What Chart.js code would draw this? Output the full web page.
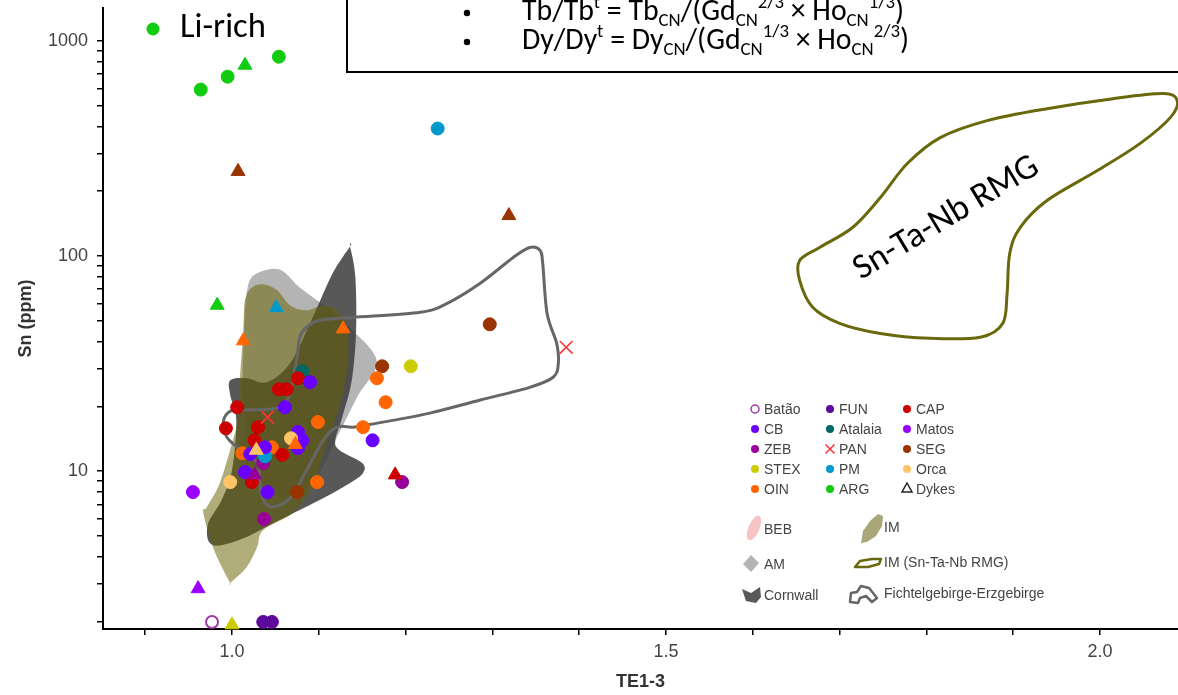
<!DOCTYPE html>
<html lang="es">
<head>
<meta charset="utf-8">
<title>Sn vs TE1-3</title>
<script src="https://cdn.jsdelivr.net/npm/chart.js@4.4.1/dist/chart.umd.min.js"></script>
<style>
  html, body { margin: 0; padding: 0; background: #fff; }
  canvas { display: block; }
</style>
</head>
<body>
<canvas id="graficoSn" width="1178" height="695"></canvas>
<script>
// Ejes
const X_MIN = 0.8514, X_MAX = 2.0899;
const Y_MIN = 1.845, Y_MAX = 1420;
const X_TICKS = [0.9, 1.0, 1.1, 1.2, 1.3, 1.4, 1.5, 1.6, 1.7, 1.8, 1.9, 2.0];
const X_ETIQUETAS = ['1.0', '1.5', '2.0'];
const Y_TICKS = [2, 3, 4, 5, 6, 7, 8, 9, 10, 20, 30, 40, 50, 60, 70, 80, 90,
                 100, 200, 300, 400, 500, 600, 700, 800, 900, 1000];
const Y_ETIQUETAS = ['10', '100', '1000'];

// Campos de referencia (TE1-3, Sn ppm)
const CAMPO_AM = [[1.029, 83.0], [1.055, 86.5], [1.078, 71.4], [1.109, 57.7], [1.139, 45.1], [1.167, 32.1],
                  [1.144, 22.0], [1.121, 14.4], [1.093, 8.80], [1.055, 7.57], [1.024, 10.9], [1.013, 22.0],
                  [1.014, 45.1], [1.018, 71.4]];
const CAMPO_CORNWALL = [[1.136, 110.7], [1.136, 110.7], [1.142, 81.2], [1.143, 45.1], [1.138, 26.4], [1.127, 17.8],
                        [1.119, 13.9], [1.124, 12.5], [1.150, 10.9], [1.151, 9.79], [1.136, 8.80], [1.101, 7.33],
                        [1.055, 5.92], [1.009, 4.79], [0.977, 4.54], [0.972, 5.61], [0.988, 7.33], [1.000, 10.1],
                        [1.005, 17.2], [0.998, 22.5], [0.998, 26.4], [1.017, 27.0], [1.040, 25.9], [1.067, 31.7],
                        [1.093, 51.8], [1.116, 83.0]];
const CAMPO_IM = [[1.036, 73.8], [1.052, 69.2], [1.067, 58.9], [1.086, 55.9], [1.105, 58.9], [1.121, 55.9],
                  [1.132, 46.6], [1.134, 33.8], [1.128, 23.0], [1.116, 16.0], [1.105, 12.1], [1.093, 8.43],
                  [1.070, 6.38], [1.036, 5.32], [1.029, 4.44], [1.017, 3.58], [0.998, 3.02], [0.998, 3.02],
                  [0.990, 3.47], [0.978, 4.44], [0.967, 6.38], [0.971, 6.81], [0.986, 8.80], [1.001, 13.9],
                  [1.006, 17.2], [1.009, 26.4], [1.013, 45.1], [1.015, 62.2], [1.023, 71.4]];
const CAMPO_FICHTEL = [[1.101, 50.2], [1.139, 51.8], [1.217, 54.7], [1.248, 60.2], [1.286, 74.6], [1.324, 98.4],
                       [1.343, 109.5], [1.355, 106.1], [1.358, 92.3], [1.363, 54.1], [1.374, 39.3], [1.376, 31.7],
                       [1.370, 27.3], [1.343, 24.5], [1.286, 21.4], [1.228, 18.6], [1.185, 17.2], [1.156, 16.4],
                       [1.139, 16.0], [1.121, 16.0], [1.105, 13.9], [1.086, 10.1], [1.067, 7.49], [1.047, 6.81],
                       [1.036, 7.33], [1.032, 8.80], [1.029, 10.9], [1.007, 12.8], [0.994, 14.4], [0.990, 16.7],
                       [0.995, 18.6], [1.007, 19.2], [1.053, 19.6], [1.065, 22.0], [1.070, 26.4], [1.075, 33.8],
                       [1.078, 41.9], [1.086, 46.6]];
const CAMPO_RMG = [[1.654, 95.3], [1.677, 109.5], [1.715, 135.5], [1.747, 186.8], [1.778, 268.7], [1.816, 354.6],
                   [1.870, 425.5], [1.939, 483.6], [2.015, 538.2], [2.073, 568], [2.089, 526.7], [2.081, 439.3],
                   [2.046, 332.7], [1.997, 249.3], [1.939, 180.9], [1.908, 135.5], [1.896, 102.7], [1.893, 67.0],
                   [1.888, 48.6], [1.862, 41.9], [1.804, 41.4], [1.747, 43.6], [1.700, 48.6], [1.669, 57.7],
                   [1.654, 76.9]];

// Muestras (circulos = granitos, triangulos = diques)
const ARG_C = [[0.964, 593], [0.995, 681], [1.054, 843]];
const ARG_T = [[1.015, 770], [0.983, 59]];
const PM_C = [[1.237, 391], [1.038, 11.7]];
const PM_T = [[1.051, 57.5]];
const SEG_C = [[1.297, 48.1], [1.173, 30.7], [1.075, 7.99]];
const SEG_T = [[1.007, 247], [1.319, 154]];
const STEX_C = [[1.206, 30.7]];
const STEX_T = [[1.000, 1.93]];
const PAN_X = [[1.385, 37.6], [1.041, 17.8]];
const OIN_C = [[1.167, 27.0], [1.177, 20.9], [1.099, 16.9], [1.151, 16.0], [1.098, 8.89], [1.012, 12.1], [1.046, 12.9]];
const OIN_T = [[1.013, 40.3], [1.128, 45.8], [1.073, 13.3]];
const CAP_C = [[1.076, 27.0], [1.054, 24.0], [1.063, 24.0], [1.006, 19.8], [0.993, 15.8], [1.030, 16.0],
               [1.026, 13.9], [1.058, 11.9], [1.023, 8.89]];
const CAP_T = [[1.188, 9.6]];
const CB_C = [[1.090, 25.9], [1.061, 19.8], [1.076, 15.2], [1.081, 13.9], [1.076, 12.8], [1.038, 12.9],
              [1.021, 12.0], [1.162, 13.9], [1.015, 9.89], [1.041, 7.99]];
const MATOS_C = [[0.955, 7.99]];
const MATOS_T = [[0.961, 2.84]];
const ZEB_C = [[1.036, 10.9], [1.196, 8.89], [1.037, 5.98]];
const ZEB_T = [[1.026, 9.6]];
const ATALAIA_C = [[1.081, 29.1]];
const ORCA_C = [[0.998, 8.89], [1.068, 14.2]];
const ORCA_T = [[1.028, 12.5]];
const FUN_C = [[1.036, 1.99], [1.046, 1.99]];
const BATAO_C = [[0.977, 1.99]];

// Colores del tema
const COLORES = {
    batao: '#a03aa6',
    cb: '#6a00ff',
    zeb: '#990099',
    stex: '#cccc00',
    oin: '#ff6600',
    fun: '#5e0a9a',
    atalaia: '#006666',
    pan: '#ff3333',
    pm: '#0099cc',
    arg: '#11cc11',
    cap: '#cc0000',
    matos: '#9b00ff',
    seg: '#993300',
    orca: '#ffc466',
    am: '#b4b4b4',
    cornwall: 'rgba(60, 60, 62, 0.86)',
    im: 'rgba(103, 98, 2, 0.52)',
    fichtel: '#666666',
    rmg: '#69690c',
    texto: '#444444'
};

const FUENTE_EJES = '"Liberation Sans", Arial, sans-serif';
const FUENTE_TEXTO = 'Carlito, Lato, "Open Sans", sans-serif';

// Crear un dataset de puntos
function serie(etiqueta, datos, color, estilo) {
    const ds = {
        label: etiqueta,
        data: datos.map(([x, y]) => ({ x, y })),
        showLine: false,
        clip: false,
        backgroundColor: color,
        borderColor: color,
        borderWidth: 1,
        pointStyle: 'circle',
        pointRadius: 6.5
    };
    if (estilo === 'tri') {
        ds.pointStyle = 'triangle';
        ds.pointRadius = 8;
    } else if (estilo === 'hueco') {
        ds.backgroundColor = '#ffffff';
        ds.borderWidth = 2;
        ds.pointRadius = 6;
    } else if (estilo === 'x') {
        ds.pointStyle = 'crossRot';
        ds.pointRadius = 9;
        ds.borderWidth = 1.6;
    }
    return ds;
}

// Curva cerrada suave (Catmull-Rom) a partir de pixeles
function curvaCerrada(ctx, pts) {
    const n = pts.length;
    ctx.beginPath();
    ctx.moveTo(pts[0][0], pts[0][1]);
    for (let i = 0; i < n; i++) {
        const p0 = pts[(i - 1 + n) % n], p1 = pts[i], p2 = pts[(i + 1) % n], p3 = pts[(i + 2) % n];
        const t = 1 / 6;
        ctx.bezierCurveTo(
            p1[0] + (p2[0] - p0[0]) * t, p1[1] + (p2[1] - p0[1]) * t,
            p2[0] - (p3[0] - p1[0]) * t, p2[1] - (p3[1] - p1[1]) * t,
            p2[0], p2[1]
        );
    }
    ctx.closePath();
}

// Texto con subindices y superindices
function textoRico(ctx, partes, x, yBase, tam, dibujar) {
    let cx = x;
    partes.forEach(([txt, modo]) => {
        const t = modo ? tam * 0.63 : tam;
        ctx.font = `${t}px ${FUENTE_TEXTO}`;
        const dy = modo === 'sub' ? tam * 0.2 : (modo === 'sup' ? -tam * 0.4 : 0);
        if (dibujar) ctx.fillText(txt, cx, yBase + dy);
        cx += ctx.measureText(txt).width;
    });
    return cx - x;
}

// Plugin: campos de referencia debajo de los puntos
const pluginCampos = {
    id: 'campos',
    beforeDatasetsDraw(chart) {
        const { ctx, chartArea, scales } = chart;
        const aPixel = lista => lista.map(([vx, vy]) => [scales.x.getPixelForValue(vx), scales.y.getPixelForValue(vy)]);
        ctx.save();
        ctx.beginPath();
        ctx.rect(chartArea.left, chartArea.top, chartArea.right - chartArea.left, chartArea.bottom - chartArea.top);
        ctx.clip();

        curvaCerrada(ctx, aPixel(CAMPO_AM));
        ctx.fillStyle = COLORES.am;
        ctx.fill();

        curvaCerrada(ctx, aPixel(CAMPO_CORNWALL));
        ctx.fillStyle = COLORES.cornwall;
        ctx.fill();

        curvaCerrada(ctx, aPixel(CAMPO_IM));
        ctx.fillStyle = COLORES.im;
        ctx.fill();

        ctx.lineJoin = 'round';
        curvaCerrada(ctx, aPixel(CAMPO_FICHTEL));
        ctx.strokeStyle = COLORES.fichtel;
        ctx.lineWidth = 3;
        ctx.stroke();

        curvaCerrada(ctx, aPixel(CAMPO_RMG));
        ctx.strokeStyle = COLORES.rmg;
        ctx.lineWidth = 3;
        ctx.stroke();
        ctx.restore();
    },
    afterDraw(chart) {
        const ctx = chart.ctx;
        ctx.save();

        // Recuadro con las formulas
        ctx.fillStyle = '#ffffff';
        ctx.fillRect(347, -2, 840, 74);
        ctx.strokeStyle = '#000';
        ctx.lineWidth = 2;
        ctx.strokeRect(347, -4, 840, 76);

        const linea1 = [['Tb/Tb', ''], ['t', 'sup'], [' = Tb', ''], ['CN', 'sub'], ['/(Gd', ''], ['CN', 'sub'],
                        ['2/3', 'sup'], [' \u00d7 Ho', ''], ['CN', 'sub'], ['1/3', 'sup'], [')', '']];
        const linea2 = [['Dy/Dy', ''], ['t', 'sup'], [' = Dy', ''], ['CN', 'sub'], ['/(Gd', ''], ['CN', 'sub'],
                        ['1/3', 'sup'], [' \u00d7 Ho', ''], ['CN', 'sub'], ['2/3', 'sup'], [')', '']];
        ctx.textBaseline = 'alphabetic';
        ctx.textAlign = 'left';
        ctx.fillStyle = '#000';
        const tam = 24 * 387 / textoRico(ctx, linea2, 0, 0, 24, false);
        textoRico(ctx, linea1, 522, 20, tam, true);
        textoRico(ctx, linea2, 522, 49, tam, true);
        ctx.beginPath();
        ctx.arc(467, 13, 3.2, 0, Math.PI * 2);
        ctx.arc(467, 42, 3.2, 0, Math.PI * 2);
        ctx.fill();

        // Etiqueta Li-rich
        ctx.fillStyle = COLORES.arg;
        ctx.beginPath();
        ctx.arc(153, 29, 6.5, 0, Math.PI * 2);
        ctx.fill();
        ctx.fillStyle = '#000';
        ctx.font = `34px ${FUENTE_TEXTO}`;
        const tamLi = 34 * 86 / ctx.measureText('Li-rich').width;
        ctx.font = `${tamLi}px ${FUENTE_TEXTO}`;
        ctx.fillText('Li-rich', 180, 37);

        // Etiqueta del campo RMG
        ctx.save();
        ctx.translate(951, 226);
        ctx.rotate(-31 * Math.PI / 180);
        ctx.font = `34px ${FUENTE_TEXTO}`;
        const tamR = 34 * 210 / ctx.measureText('Sn-Ta-Nb RMG').width;
        ctx.font = `${tamR}px ${FUENTE_TEXTO}`;
        ctx.textAlign = 'center';
        ctx.fillText('Sn-Ta-Nb RMG', 0, 0);
        ctx.restore();

        dibujarLeyenda(ctx);
        ctx.restore();
    }
};

// Leyenda de muestras y campos
function dibujarLeyenda(ctx) {
    const items = [
        ['Batão', COLORES.batao, 'hueco'], ['CB', COLORES.cb], ['ZEB', COLORES.zeb], ['STEX', COLORES.stex], ['OIN', COLORES.oin],
        ['FUN', COLORES.fun], ['Atalaia', COLORES.atalaia], ['PAN', COLORES.pan, 'x'], ['PM', COLORES.pm], ['ARG', COLORES.arg],
        ['CAP', COLORES.cap], ['Matos', COLORES.matos], ['SEG', COLORES.seg], ['Orca', COLORES.orca], ['Dykes', '#222', 'tri']
    ];
    const colX = [755, 830, 907];
    ctx.font = `14px ${FUENTE_EJES}`;
    ctx.textBaseline = 'middle';
    ctx.textAlign = 'left';
    items.forEach(([txt, color, tipo], i) => {
        const mx = colX[Math.floor(i / 5)];
        const my = 409 + 20 * (i % 5);
        ctx.fillStyle = color;
        ctx.strokeStyle = color;
        ctx.lineWidth = 1.5;
        ctx.beginPath();
        if (tipo === 'hueco') {
            ctx.arc(mx, my, 4, 0, Math.PI * 2);
            ctx.stroke();
        } else if (tipo === 'x') {
            ctx.moveTo(mx - 4.5, my - 4.5); ctx.lineTo(mx + 4.5, my + 4.5);
            ctx.moveTo(mx + 4.5, my - 4.5); ctx.lineTo(mx - 4.5, my + 4.5);
            ctx.stroke();
        } else if (tipo === 'tri') {
            ctx.moveTo(mx, my - 6); ctx.lineTo(mx + 5, my + 3); ctx.lineTo(mx - 5, my + 3); ctx.closePath();
            ctx.stroke();
        } else {
            ctx.arc(mx, my, 4, 0, Math.PI * 2);
            ctx.fill();
        }
        ctx.fillStyle = COLORES.texto;
        ctx.fillText(txt, mx + 9, my + 1);
    });

    // Iconos de campos
    ctx.save();
    ctx.translate(754, 528);
    ctx.rotate(0.4);
    ctx.beginPath();
    ctx.ellipse(0, 0, 5.5, 13, 0, 0, Math.PI * 2);
    ctx.fillStyle = '#f6c4c4';
    ctx.fill();
    ctx.restore();

    const forma = (pts, relleno, trazo) => {
        ctx.beginPath();
        pts.forEach(([px, py], i) => i ? ctx.lineTo(px, py) : ctx.moveTo(px, py));
        ctx.closePath();
        if (relleno) { ctx.fillStyle = relleno; ctx.fill(); }
        if (trazo) { ctx.strokeStyle = trazo; ctx.lineWidth = 2.5; ctx.lineJoin = 'round'; ctx.stroke(); }
    };
    forma([[861, 543], [863, 531], [870, 521], [878, 514], [883, 516], [882, 526], [876, 536], [867, 542]], '#a9a77a');
    forma([[751, 555], [759, 563], [751, 572], [743, 564]], COLORES.am);
    forma([[855, 567], [860, 561], [872, 559], [881, 559], [879, 564], [868, 567]], null, COLORES.rmg);
    forma([[742, 589], [751, 593], [760, 587], [761, 597], [756, 603], [746, 601]], '#59595b');
    forma([[850, 602], [851, 593], [857, 592], [861, 586], [869, 588], [877, 598], [872, 602], [866, 596], [860, 598], [858, 603]], null, COLORES.fichtel);

    ctx.fillStyle = COLORES.texto;
    ctx.font = `14px ${FUENTE_EJES}`;
    ctx.fillText('BEB', 764, 530);
    ctx.fillText('IM', 884, 528);
    ctx.fillText('AM', 764, 565);
    ctx.fillText('IM (Sn-Ta-Nb RMG)', 884, 563);
    ctx.fillText('Cornwall', 764, 596);
    ctx.fillText('Fichtelgebirge-Erzgebirge', 884, 594);
}

// Datasets (el primero se dibuja encima)
const datasets = [
    serie('Orca', ORCA_T, COLORES.orca, 'tri'),
    serie('OIN', OIN_T, COLORES.oin, 'tri'),
    serie('ZEB', ZEB_T, COLORES.zeb, 'tri'),
    serie('CAP', CAP_T, COLORES.cap, 'tri'),
    serie('PM', PM_T, COLORES.pm, 'tri'),
    serie('SEG', SEG_T, COLORES.seg, 'tri'),
    serie('ARG', ARG_T, COLORES.arg, 'tri'),
    serie('STEX', STEX_T, COLORES.stex, 'tri'),
    serie('Matos', MATOS_T, COLORES.matos, 'tri'),
    serie('PAN', PAN_X, COLORES.pan, 'x'),
    serie('Orca', ORCA_C, COLORES.orca),
    serie('CB', CB_C, COLORES.cb),
    serie('PM', PM_C, COLORES.pm),
    serie('ZEB', ZEB_C, COLORES.zeb),
    serie('CAP', CAP_C, COLORES.cap),
    serie('OIN', OIN_C, COLORES.oin),
    serie('Atalaia', ATALAIA_C, COLORES.atalaia),
    serie('SEG', SEG_C, COLORES.seg),
    serie('STEX', STEX_C, COLORES.stex),
    serie('Matos', MATOS_C, COLORES.matos),
    serie('FUN', FUN_C, COLORES.fun),
    serie('Batão', BATAO_C, COLORES.batao, 'hueco'),
    serie('ARG', ARG_C, COLORES.arg)
];

const ctxSn = document.getElementById('graficoSn').getContext('2d');
const graficoSn = new Chart(ctxSn, {
    type: 'scatter',
    data: { datasets },
    options: {
        responsive: false,
        animation: false,
        layout: { autoPadding: false, padding: { top: 8, left: 0, right: 0, bottom: 0 } },
        plugins: {
            legend: { display: false },
            tooltip: { enabled: false }
        },
        scales: {
            x: {
                type: 'linear',
                min: X_MIN,
                max: X_MAX,
                afterFit: s => { s.height = 66; s.paddingLeft = 0; s.paddingRight = 0; },
                afterBuildTicks: s => { s.ticks = X_TICKS.map(v => ({ value: v })); },
                ticks: {
                    autoSkip: false,
                    maxRotation: 0,
                    padding: 6,
                    color: COLORES.texto,
                    font: { family: FUENTE_EJES, size: 18 },
                    callback: v => X_ETIQUETAS.includes(Number(v).toFixed(1)) ? Number(v).toFixed(1) : ''
                },
                grid: { drawOnChartArea: false, drawTicks: true, tickLength: 6, color: '#000', lineWidth: 1.5 },
                border: { display: true, color: '#000', width: 2 },
                title: {
                    display: true,
                    text: 'TE1-3',
                    color: '#333',
                    font: { family: FUENTE_EJES, size: 18, weight: 'bold' },
                    padding: { top: 0, bottom: 2 }
                }
            },
            y: {
                type: 'logarithmic',
                min: Y_MIN,
                max: Y_MAX,
                afterFit: s => { s.width = 103; s.paddingTop = 0; s.paddingBottom = 0; },
                afterBuildTicks: s => { s.ticks = Y_TICKS.map(v => ({ value: v })); },
                ticks: {
                    autoSkip: false,
                    padding: 9,
                    color: COLORES.texto,
                    font: { family: FUENTE_EJES, size: 18 },
                    callback: v => Y_ETIQUETAS.includes(String(v)) ? String(v) : ''
                },
                grid: { drawOnChartArea: false, drawTicks: true, tickLength: 6, color: '#000', lineWidth: 1.5 },
                border: { display: true, color: '#000', width: 2 },
                title: {
                    display: true,
                    text: 'Sn (ppm)',
                    color: '#333',
                    font: { family: FUENTE_EJES, size: 18, weight: 'bold' },
                    padding: { top: 15, bottom: 0 }
                }
            }
        }
    },
    plugins: [pluginCampos]
});
</script>
</body>
</html>
